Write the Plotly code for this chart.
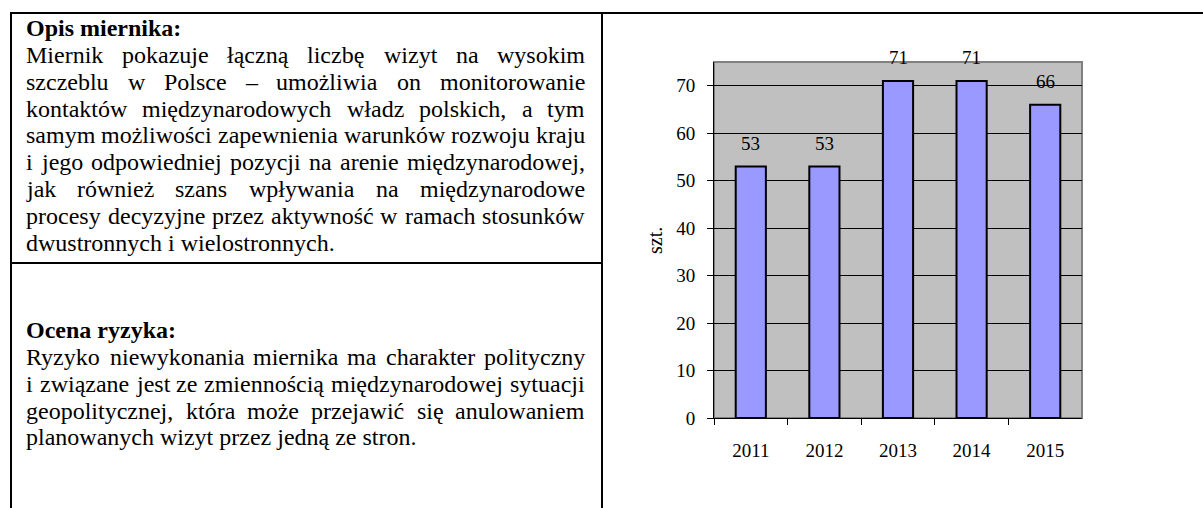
import plotly.graph_objects as go

# dane wykresu
lata = ["2011", "2012", "2013", "2014", "2015"]
wizyty = [53, 53, 71, 71, 66]
y_ticki = [0, 10, 20, 30, 40, 50, 60, 70]

# tekst tabeli (linie jak w oryginale)
opis_naglowek = "Opis miernika:"
opis_linie = [
    "Miernik pokazuje łączną liczbę wizyt na wysokim",
    "szczeblu w Polsce – umożliwia on monitorowanie",
    "kontaktów międzynarodowych władz polskich, a tym",
    "samym możliwości zapewnienia warunków rozwoju kraju",
    "i jego odpowiedniej pozycji na arenie międzynarodowej,",
    "jak również szans wpływania na międzynarodowe",
    "procesy decyzyjne przez aktywność w ramach stosunków",
    "dwustronnych i wielostronnych.",
]
ryzyko_naglowek = "Ocena ryzyka:"
ryzyko_linie = [
    "Ryzyko niewykonania miernika ma charakter polityczny",
    "i związane jest ze zmiennością międzynarodowej sytuacji",
    "geopolitycznej, która może przejawić się anulowaniem",
    "planowanych wizyt przez jedną ze stron.",
]

W, H = 1203, 508
FONT = "Liberation Serif"
FS = 24          # tekst w tabeli
ODSTEP = 26.8    # odstęp między liniami
LEWY, PRAWY = 26, 585
DESC = 0.216 * FS

# szerokości znaków Times (na 1000 jednostek) - do wyjustowania tekstu
TIMES = {
    "a": 444, "b": 500, "c": 444, "d": 500, "e": 444, "f": 333, "g": 500,
    "h": 500, "i": 278, "j": 278, "k": 500, "l": 278, "m": 778, "n": 500,
    "o": 500, "p": 500, "q": 500, "r": 333, "s": 389, "t": 278, "u": 500,
    "v": 500, "w": 722, "x": 500, "y": 500, "z": 444,
    "ą": 444, "ć": 444, "ę": 444, "ł": 278, "ń": 500, "ó": 500, "ś": 389,
    "ź": 444, "ż": 444, "M": 889, "P": 556, "R": 667, "O": 722,
    ",": 250, ".": 250, ":": 278, "–": 500, " ": 250,
}


def szer(slowo):
    return sum(TIMES.get(ch, 500) for ch in slowo) * FS / 1000


def napis(x, yb, tekst, anchor):
    return dict(
        x=x / W, y=1 - (yb + DESC) / H, xref="paper", yref="paper",
        xanchor=anchor, yanchor="bottom", text=tekst, showarrow=False,
        borderpad=0, borderwidth=0,
        font=dict(family=FONT, size=FS, color="black"),
    )


def akapit(naglowek, linie, y0):
    out = [napis(LEWY, y0, "<b>" + naglowek + "</b>", "left")]
    for i, linia in enumerate(linie):
        yb = y0 + (i + 1) * ODSTEP
        slowa = linia.split(" ")
        if i == len(linie) - 1:
            out.append(napis(LEWY, yb, linia, "left"))
            continue
        luz = (PRAWY - LEWY - sum(szer(s) for s in slowa)) / (len(slowa) - 1)
        x = LEWY
        for j, s in enumerate(slowa):
            if j == len(slowa) - 1:
                out.append(napis(PRAWY, yb, s, "right"))
            else:
                out.append(napis(x, yb, s, "left"))
            x += szer(s) + luz
    return out


def linia(x0, y0, x1, y1):
    return dict(
        type="line", xref="paper", yref="paper",
        x0=x0 / W, x1=x1 / W, y0=1 - y0 / H, y1=1 - y1 / H,
        line=dict(color="black", width=2),
    )


fig = go.Figure(
    go.Bar(
        x=lata,
        y=wizyty,
        marker=dict(color="#9999FF", line=dict(color="black", width=2)),
        hoverinfo="x+y",
    )
)

annotations = akapit(opis_naglowek, opis_linie, 36) + akapit(ryzyko_naglowek, ryzyko_linie, 338)

# etykiety nad słupkami (x jako indeks kategorii)
for i, v in enumerate(wizyty):
    annotations.append(dict(
        x=i, y=v, xref="x", yref="y", text=str(v), showarrow=False,
        yanchor="middle", yshift=23,
        font=dict(family=FONT, size=19, color="black"),
    ))

# tytuł osi y
annotations.append(dict(
    x=655 / W, y=1 - 241 / H, xref="paper", yref="paper", text="szt.",
    textangle=-90, showarrow=False, xanchor="center", yanchor="middle",
    font=dict(family=FONT, size=20, color="black"),
))

shapes = [
    linia(10, 13, 1203, 13),
    linia(11, 13, 11, 508),
    linia(602, 13, 602, 508),
    linia(11, 263, 602, 263),
    # ramka obszaru wykresu
    dict(type="rect", xref="x domain", yref="y domain", x0=0, x1=1, y0=0, y1=1,
         line=dict(color="#808080", width=2), layer="below"),
]

fig.update_layout(
    width=W,
    height=H,
    margin=dict(l=0, r=0, t=0, b=0, autoexpand=False),
    paper_bgcolor="white",
    plot_bgcolor="#C0C0C0",
    bargap=0.59,
    showlegend=False,
    font=dict(family=FONT, size=19, color="black"),
    annotations=annotations,
    shapes=shapes,
    xaxis=dict(
        type="category",
        range=[-0.5, len(lata) - 0.5],
        domain=[714 / W, 1082 / W],
        showgrid=False,
        showline=True, linecolor="black", linewidth=1,
        ticks="outside", tickson="boundaries", ticklen=6,
        tickcolor="black", tickwidth=1,
        tickangle=0,
        ticklabelstandoff=15,
        tickfont=dict(family=FONT, size=19),
    ),
    yaxis=dict(
        domain=[1 - 418 / H, 1 - 62 / H],
        range=[0, 75],
        tickvals=y_ticki,
        showgrid=True, gridcolor="black", gridwidth=1,
        zeroline=False,
        showline=True, linecolor="black", linewidth=1,
        ticks="outside", ticklen=6, tickcolor="black", tickwidth=1,
        ticklabelstandoff=8,
        tickfont=dict(family=FONT, size=19),
    ),
)

fig.write_html(
    "out.html",
    config={"displayModeBar": False},
    post_script="document.body.style.margin='0';",
)
